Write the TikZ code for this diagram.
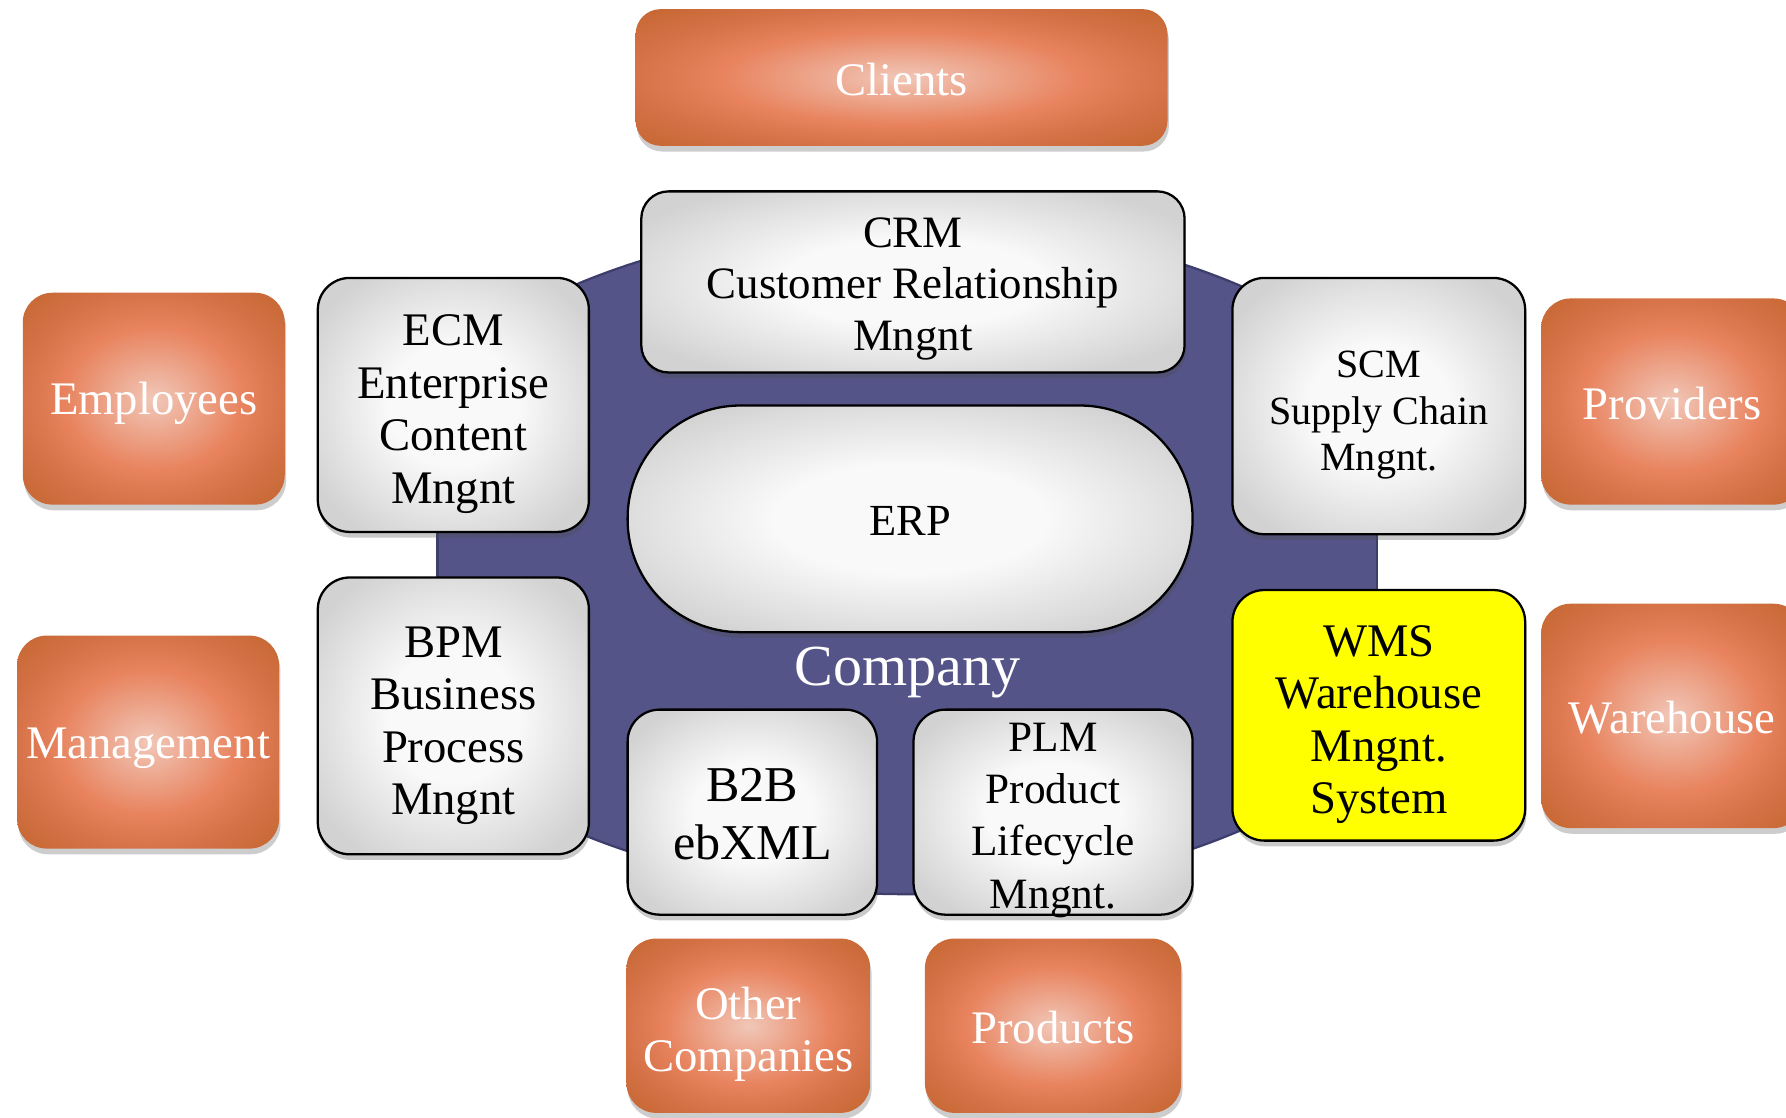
\documentclass[tikz,border=0pt]{standalone}
\usepackage{fontspec}
\setmainfont{Liberation Serif}
\usetikzlibrary{shadows}
\definecolor{oc}{HTML}{F1C7B8}
\definecolor{om}{HTML}{E8835E}
\definecolor{oe}{HTML}{D47146}
\definecolor{oz}{HTML}{C3662F}
\definecolor{gc}{HTML}{F9F9F9}
\definecolor{ge}{HTML}{D2D2D2}
\definecolor{compfill}{HTML}{545489}
\definecolor{compline}{HTML}{3E3E6C}
\definecolor{wmsyellow}{HTML}{FFFF00}
\pgfdeclareradialshading{orangeglow}{\pgfpoint{0bp}{0bp}}{color(0bp)=(oc); color(17bp)=(om); color(26bp)=(oe); color(36bp)=(oz); color(50bp)=(oz)}
\pgfdeclareradialshading{grayglow}{\pgfpoint{0bp}{0bp}}{color(0bp)=(gc); color(12bp)=(gc); color(30bp)=(ge); color(50bp)=(ge)}
\tikzset{
  outerbox/.style={shade, shading=orangeglow, rounded corners=13pt, text=white, align=center,
    inner sep=0pt, font=\fontsize{20.5}{23}\selectfont,
    drop shadow={shadow xshift=0.6pt, shadow yshift=-2.5pt, opacity=0.28, fill=black!70}},
  innerbox/.style={shade, shading=grayglow, draw=black, line width=1pt, rounded corners=14pt,
    text=black, align=center, inner sep=0pt, font=\fontsize{20.5}{23}\selectfont,
    drop shadow={shadow xshift=0.6pt, shadow yshift=-2.5pt, opacity=0.3, fill=black!70}},
  lowerless/.style={execute at begin node={\rule{0pt}{0.9em}}},
  darktext/.style={text=black, align=center, inner sep=0pt, font=\fontsize{20.5}{23}\selectfont},
  lighttext/.style={text=white, align=center, inner sep=0pt, font=\fontsize{20.5}{23}\selectfont},
}
\begin{document}
\begin{tikzpicture}[x=0.5pt, y=-0.5pt]
\useasboundingbox (0,0) rectangle (1568,981);
\clip (0,0) rectangle (1568,981);
% company disc, flattened at the sides
\begin{scope}
  \clip (796,490) ellipse [x radius=500, y radius=295];
  \fill[compfill] (384,0) rectangle (1209,981);
  \draw[compline, line width=1pt] (384,0) -- (384,981) (1209,0) -- (1209,981);
\end{scope}
\begin{scope}
  \clip (384,0) rectangle (1209,981);
  \draw[compline, line width=1pt] (796,490) ellipse [x radius=500, y radius=295];
\end{scope}
\node[text=white, font=\fontsize{25.5}{28}\selectfont] (company) at (797,590) {Company};
% outer (orange) boxes
\node[outerbox, rounded corners=11pt, minimum width=233.5pt, minimum height=60pt] (clients) at (791.5,68) {};
\node[lighttext] (clientstext) at (791.5,70) {Clients};
\node[outerbox, lowerless, minimum width=115pt, minimum height=93pt] (employees) at (135,350) {Employees};
\node[outerbox, lowerless, minimum width=115pt, minimum height=93.5pt] (management) at (130,651.5) {Management};
\node[outerbox, minimum width=115pt, minimum height=90.5pt] (providers) at (1468,352.5) {};
\node[lighttext] (providerstext) at (1468,354) {Providers};
\node[outerbox, minimum width=115pt, minimum height=98.5pt] (warehouse) at (1468,628.5) {};
\node[lighttext] (warehousetext) at (1468,630) {Warehouse};
\node[outerbox, minimum width=107pt, minimum height=76.5pt] (others) at (657,900.5) {};
\node[lighttext] (otherstext) at (657,908) {Other\\Companies};
\node[outerbox, minimum width=112.5pt, minimum height=76.5pt] (products) at (924.5,900.5) {};
\node[lighttext] (productstext) at (924.5,902.5) {Products};
% inner (grey) boxes
\node[innerbox, rounded corners=12pt, minimum width=238.5pt, minimum height=79.5pt] (crm) at (801.5,247.5) {};
\node[darktext, font=\fontsize{19.7}{22.5}\selectfont] (crmtext) at (801.5,253.5) {CRM\\Customer Relationship\\Mngnt};
\node[innerbox, minimum width=119pt, minimum height=111.5pt] (ecm) at (398,355.5) {};
\node[darktext] (ecmtext) at (398,363.5) {ECM\\Enterprise\\Content\\Mngnt};
\node[innerbox, minimum width=128.5pt, minimum height=112.5pt] (scm) at (1210.5,356.5) {};
\node[darktext, font=\fontsize{17.6}{20.5}\selectfont] (scmtext) at (1210.5,364.5) {SCM\\Supply Chain\\Mngnt.};
\node[innerbox, rounded corners=49.5pt, minimum width=248pt, minimum height=99.5pt] (erp) at (799,455.5) {};
\node[darktext, font=\fontsize{19.5}{22}\selectfont] (erptext) at (799,457.5) {ERP};
\node[innerbox, minimum width=119pt, minimum height=121.5pt] (bpm) at (398,628.5) {};
\node[darktext] (bpmtext) at (398,637) {BPM\\Business\\Process\\Mngnt};
\node[innerbox, minimum width=109.5pt, minimum height=90pt] (b2b) at (660.5,713) {};
\node[darktext, font=\fontsize{22}{25.5}\selectfont] (b2btext) at (660.5,715) {B2B\\ebXML};
\node[innerbox, minimum width=122.5pt, minimum height=90pt] (plm) at (924.5,713) {};
\node[darktext, font=\fontsize{19}{23}\selectfont] (plmtext) at (924.5,720) {PLM\\Product\\Lifecycle\\Mngnt.};
\node[innerbox, shade=false, fill=wmsyellow, minimum width=128.5pt, minimum height=110pt] (wms) at (1210.5,628) {};
\node[darktext] (wmstext) at (1210.5,636) {WMS\\Warehouse\\Mngnt.\\System};
\end{tikzpicture}
\end{document}
